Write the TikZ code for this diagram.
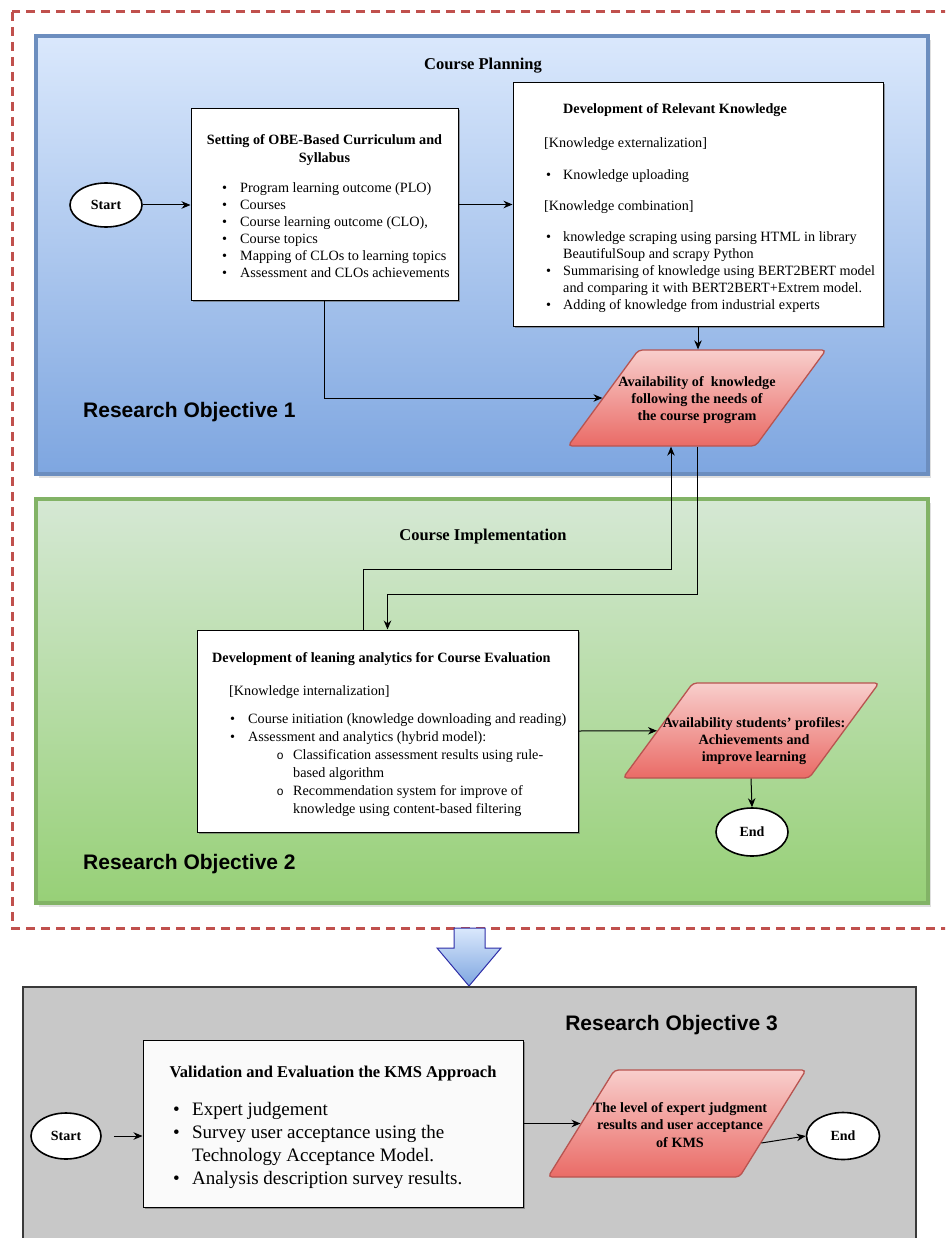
\documentclass[tikz,border=0pt]{standalone}
\usepackage{fontspec}
\setmainfont{Liberation Serif}
\newfontfamily\labelsans{Liberation Sans}
\newfontfamily\monof{Liberation Mono}
\usetikzlibrary{arrows.meta,shapes.geometric,shadows,calc}

\definecolor{framered}{HTML}{C0504D}
\definecolor{blueline}{HTML}{6C8EBF}
\definecolor{bluetop}{HTML}{DAE8FC}
\definecolor{bluebot}{HTML}{7EA6E0}
\definecolor{greenline}{HTML}{82B366}
\definecolor{greentop}{HTML}{D5E8D4}
\definecolor{greenbot}{HTML}{97D077}
\definecolor{paraline}{HTML}{B85450}
\definecolor{paratop}{HTML}{F8CECC}
\definecolor{parabot}{HTML}{EA6B66}
\definecolor{greyfill}{HTML}{C8C8C8}
\definecolor{greyline}{HTML}{3A3A3A}
\definecolor{arrowline}{HTML}{2E2EA8}

\newcommand\bodyfs{\fontsize{14.2}{17}\selectfont}
\newcommand\bul{\makebox[18pt][l]{\textbullet}}
\newcommand\bulb{\makebox[17pt][l]{\textbullet}}
\newcommand\bulc{\makebox[19pt][l]{\textbullet}}
\newcommand\subbul{\makebox[16.5pt][l]{\monof\fontsize{12}{12}\selectfont o}}

\tikzset{
  frame/.style={draw=framered, line width=3pt, dash pattern=on 9pt off 6pt},
  panel/.style={rectangle, line width=3.5pt, inner sep=0pt,
    drop shadow={shadow xshift=3pt, shadow yshift=-4pt, opacity=.25}},
  stepbox/.style={rectangle, draw=black, line width=1pt, fill=white, inner sep=0pt,
    drop shadow={shadow xshift=1.5pt, shadow yshift=-1.5pt, fill=black!60, opacity=.6}},
  terminal/.style={ellipse, draw=black, line width=1.6pt, fill=white, inner sep=0pt,
    font=\bfseries\fontsize{14}{16}\selectfont},
  para/.style={trapezium, trapezium stretches=true, draw=paraline, line width=1.3pt,
    top color=paratop, bottom color=parabot, rounded corners=4pt, inner sep=2pt},
  paratext/.style={align=center, inner sep=0pt, font=\bfseries\fontsize{14.2}{17.3}\selectfont},
  txt/.style={inner sep=0pt, anchor=base west},
  heading/.style={inner sep=0pt, anchor=base, font=\bfseries\fontsize{16.5}{19}\selectfont},
  objlabel/.style={inner sep=0pt, anchor=base west, font=\labelsans\bfseries\fontsize{21}{24}\selectfont},
  arr/.style={-{Stealth[length=9pt,width=7.5pt]}, line width=1pt, draw=black}
}

\begin{document}
\begin{tikzpicture}[x=1pt,y=-1pt]
\useasboundingbox (0,0) rectangle (945,1238);
\clip (0,0) rectangle (945,1238);

% dashed frame around objectives 1 and 2
\draw[frame] (12,12) rectangle (990,928);

% ---------- Research Objective 1 ----------
\node[panel, draw=blueline, top color=bluetop, bottom color=bluebot,
      minimum width=892pt, minimum height=438pt] (ro1) at (482,255) {};
\node[heading] (cp) at (483,70) {Course Planning};
\node[objlabel] (ro1lbl) at (83,417) {Research Objective 1};

\node[terminal, minimum width=72pt, minimum height=44pt] (start1) at (106,205) {Start};

\node[stepbox, minimum width=267pt, minimum height=191pt] (box1) at (324.5,204.5) {};
\node[txt, anchor=base] (box1title) at (324.5,145)
  {\parbox[t]{262pt}{\centering\bfseries\fontsize{14.2}{18}\selectfont
   Setting of OBE-Based Curriculum and\\Syllabus}};
\node[txt] (box1list) at (222,193)
  {\parbox[t]{232pt}{\raggedright\bodyfs
   \bul Program learning outcome (PLO)\\
   \bul Courses\\
   \bul Course learning outcome (CLO),\\
   \bul Course topics\\
   \bul Mapping of CLOs to learning topics\\
   \bul Assessment and CLOs achievements}};

\node[stepbox, minimum width=370pt, minimum height=243pt] (box2) at (698,204.5) {};
\node[txt] (box2title) at (563,114) {\bfseries\bodyfs Development of Relevant Knowledge};
\node[txt] (ext) at (544,148) {\bodyfs [Knowledge externalization]};
\node[txt] (extlist) at (546,180) {\bodyfs\bulb Knowledge uploading};
\node[txt] (comb) at (544,211) {\bodyfs [Knowledge combination]};
\node[txt] (comblist) at (546,242)
  {\parbox[t]{340pt}{\raggedright\fontsize{14.2}{16.8}\selectfont
   \bulb knowledge scraping using parsing HTML in library\\
   \hspace*{17pt}BeautifulSoup and scrapy Python\\
   \bulb Summarising of knowledge using BERT2BERT model\\
   \hspace*{17pt}and comparing it with BERT2BERT+Extrem model.\\
   \bulb Adding of knowledge from industrial experts}};

\node[para, trapezium left angle=59, trapezium right angle=121,
      minimum width=258pt, minimum height=96pt] (para1) at (697,398) {};
\node[paratext] (para1txt) at (697,400)
  {Availability of\ \ knowledge\\following the needs of\\the course program};

% ---------- Research Objective 2 ----------
\node[panel, draw=greenline, top color=greentop, bottom color=greenbot,
      minimum width=892pt, minimum height=404pt] (ro2) at (482,701) {};
\node[heading] (ci) at (483,540) {Course Implementation};
\node[objlabel] (ro2lbl) at (83,869) {Research Objective 2};

\node[stepbox, minimum width=381pt, minimum height=202pt] (box3) at (387.5,731) {};
\node[txt] (box3title) at (212,662) {\bfseries\bodyfs Development of leaning analytics for Course Evaluation};
\node[txt] (intern) at (229,695) {\bodyfs [Knowledge internalization]};
\node[txt] (box3list) at (230,723)
  {\parbox[t]{352pt}{\raggedright\fontsize{14.2}{18}\selectfont
   \bul Course initiation (knowledge downloading and reading)\\
   \bul Assessment and analytics (hybrid model):\\
   \hspace*{46.5pt}\subbul Classification assessment results using rule-\\
   \hspace*{63pt}based algorithm\\
   \hspace*{46.5pt}\subbul Recommendation system for improve of\\
   \hspace*{63pt}knowledge using content-based filtering}};

\node[para, trapezium left angle=59, trapezium right angle=121,
      minimum width=256pt, minimum height=95pt] (para2) at (751,730.5) {};
\node[paratext] (para2txt) at (754,741)
  {Availability students' profiles:\\Achievements and\\improve learning};

\node[terminal, minimum width=72pt, minimum height=48pt] (end2) at (752,832) {End};

% ---------- transition arrow ----------
\path[draw=arrowline, line width=1pt, top color=bluetop, bottom color=bluebot]
  (454,928) -- (485,928) -- (485,948) -- (501,948) -- (469,986)
  -- (437,948) -- (454,948) -- cycle;

% ---------- Research Objective 3 ----------
\node[rectangle, draw=greyline, fill=greyfill, line width=1.5pt, inner sep=0pt,
      minimum width=893pt, minimum height=280pt] (ro3) at (469.5,1127) {};
\node[objlabel, anchor=base] (ro3lbl) at (671.5,1030) {Research Objective 3};

\node[terminal, minimum width=70pt, minimum height=46pt] (start3) at (66,1136) {Start};

\node[stepbox, fill=white!98!black, minimum width=380pt, minimum height=167pt] (box4) at (333,1123.5) {};
\node[txt, anchor=base] (box4title) at (333,1077)
  {\bfseries\fontsize{16.5}{19}\selectfont Validation and Evaluation the KMS Approach};
\node[txt] (box4list) at (173,1115)
  {\parbox[t]{340pt}{\raggedright\fontsize{19}{23}\selectfont
   \bulc Expert judgement\\
   \bulc Survey user acceptance using the\\
   \hspace*{19pt}Technology Acceptance Model.\\
   \bulc Analysis description survey results.}};

\node[para, trapezium left angle=62, trapezium right angle=118,
      minimum width=258pt, minimum height=107pt] (para3) at (677,1123.5) {};
\node[paratext] (para3txt) at (680,1125)
  {The level of expert judgment\\results and user acceptance\\of KMS};

\node[terminal, minimum width=73pt, minimum height=47pt] (end3) at (843,1136) {End};

% ---------- connectors ----------
\draw[arr] (start1.east) -- (start1.east -| box1.west);
\draw[arr] (box1.east) -- (box1.east -| box2.west);
\draw[arr] (box1.south) |- (para1);
\draw[arr] (box2.south) -- (box2.south |- para1.north);

\coordinate (b3out) at ($(box3.north)+(-24.5,0)$);
\coordinate (p1in) at ($(para1.south)+(-26,0)$);
\draw[arr] (b3out) -- ++(0,-60) -| (p1in);
\draw[arr] (para1.south) -- ++(0,148) -| (box3.north);

\draw[arr] (box3.east) -- (para2);
\draw[arr] (para2.south) -- (end2.north);

\draw[arr, shorten <=12pt] (start3.east) -- (start3.east -| box4.west);
\draw[arr] (box4.east) -- (para3);
\coordinate (p3out) at ($(para3.bottom right corner)!0.32!(para3.top right corner)$);
\draw[arr] (p3out) -- (end3.west);

\end{tikzpicture}
\end{document}
